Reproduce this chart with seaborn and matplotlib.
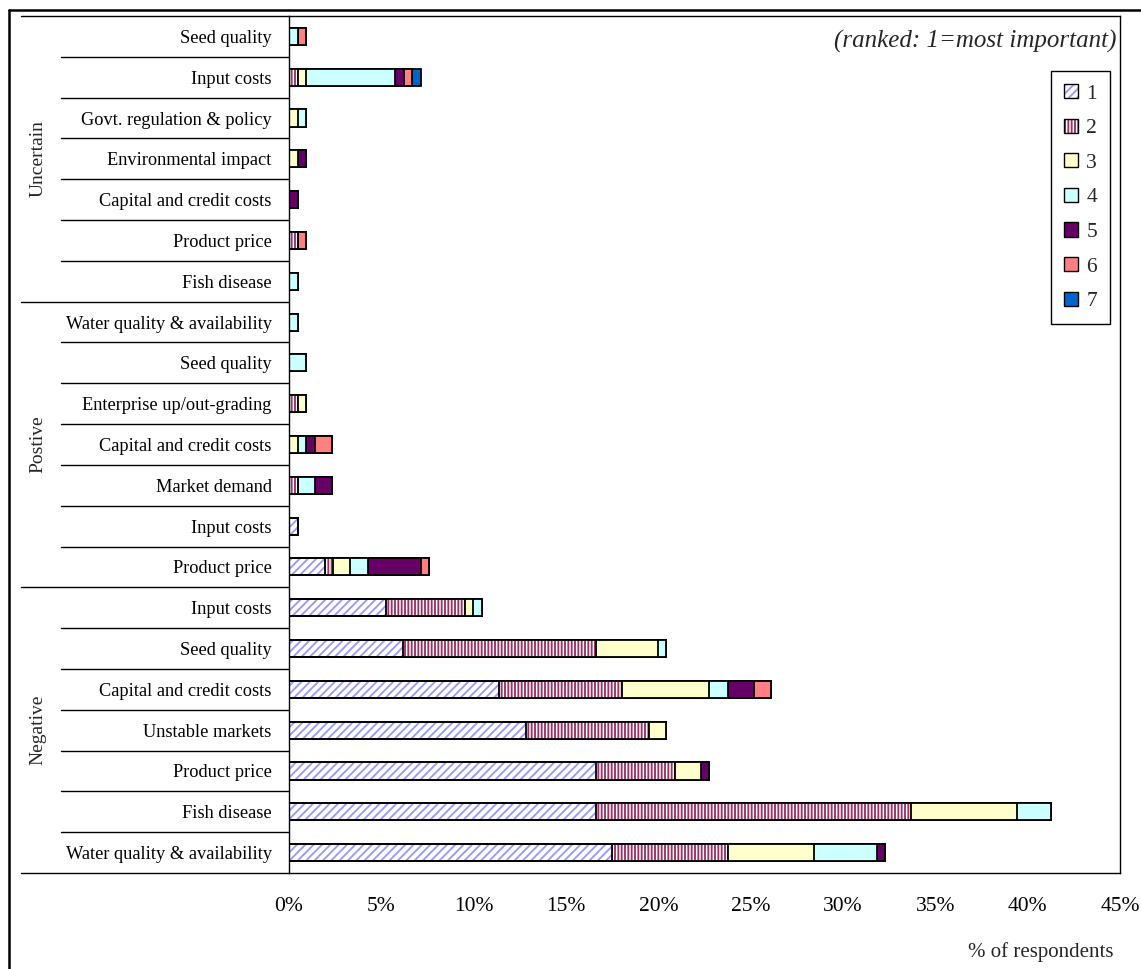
import matplotlib
matplotlib.use("Agg")
import matplotlib.pyplot as plt
from matplotlib.lines import Line2D
from matplotlib.patches import Patch
import seaborn as sns
import pandas as pd
import numpy as np

# ---------------- data ----------------
groups = ["Uncertain"] * 7 + ["Postive"] * 7 + ["Negative"] * 7
factors = [
    "Seed quality", "Input costs", "Govt. regulation & policy", "Environmental impact",
    "Capital and credit costs", "Product price", "Fish disease",
    "Water quality & availability", "Seed quality", "Enterprise up/out-grading",
    "Capital and credit costs", "Market demand", "Input costs", "Product price",
    "Input costs", "Seed quality", "Capital and credit costs", "Unstable markets",
    "Product price", "Fish disease", "Water quality & availability",
]
rank1 = [0, 0, 0, 0, 0, 0, 0,
         0, 0, 0, 0, 0, 0.47, 1.95,
         5.24, 6.17, 11.37, 12.82, 16.61, 16.61, 17.50]
rank2 = [0, 0.47, 0, 0, 0, 0.47, 0,
         0, 0, 0.47, 0, 0.47, 0, 0.43,
         4.29, 10.43, 6.66, 6.66, 4.29, 17.09, 6.26]
rank3 = [0, 0.47, 0.47, 0.47, 0, 0, 0,
         0, 0, 0.47, 0.47, 0, 0, 0.90,
         0.43, 3.36, 4.71, 0.94, 1.42, 5.72, 4.69]
rank4 = [0.47, 4.80, 0.47, 0, 0, 0, 0.47,
         0.47, 0.94, 0, 0.47, 0.94, 0, 1.01,
         0.50, 0.45, 1.01, 0, 0, 1.86, 3.37]
rank5 = [0, 0.47, 0, 0.47, 0.50, 0, 0,
         0, 0, 0, 0.47, 0.94, 0, 2.87,
         0, 0, 1.42, 0, 0.43, 0, 0.45]
rank6 = [0.47, 0.47, 0, 0, 0, 0.47, 0,
         0, 0, 0, 0.94, 0, 0, 0.42,
         0, 0, 0.94, 0, 0, 0, 0]
rank7 = [0, 0.47, 0, 0, 0, 0, 0,
         0, 0, 0, 0, 0, 0, 0,
         0, 0, 0, 0, 0, 0, 0]
rank_labels = ["1", "2", "3", "4", "5", "6", "7"]
xticks = [0, 5, 10, 15, 20, 25, 30, 35, 40, 45]
group_names = ["Uncertain", "Postive", "Negative"]

# ---------------- styles ----------------
rank_colors = ["#FFFFFF", "#FFFFFF", "#FFFFCC", "#CCFFFF", "#660066", "#FF8080", "#0066CC"]
hatch_colors = {0: "#9999FF", 1: "#993366"}
hatches = {0: "////", 1: "|||||"}

sns.set_style("white")
plt.rcParams["font.family"] = ["Liberation Serif", "DejaVu Serif"]
plt.rcParams["hatch.linewidth"] = 1.35

W, H = 1141, 969
fig = plt.figure(figsize=(W / 100, H / 100), dpi=100)
ax = fig.add_axes([289 / W, 1 - 873 / H, (1120 - 289) / W, (873 - 16) / H])

ids = [f"{g}_{i}" for i, g in enumerate(groups)]
ranks = [rank1, rank2, rank3, rank4, rank5, rank6, rank7]
df = pd.DataFrame({"id": ids})
cum = np.zeros(len(ids))
for k, r in enumerate(ranks):
    cum = cum + np.array(r)
    df[f"c{k + 1}"] = cum

BAR_W = 0.42
EDGE_LW = 1.3

# draw from the largest cumulative (rank 7) down to rank 1
for k in range(6, -1, -1):
    col = f"c{k + 1}"
    if k in hatches:
        sns.barplot(data=df, x=col, y="id", order=ids, orient="h", color="white",
                    saturation=1, errorbar=None, width=BAR_W, ax=ax)
        for p in ax.containers[-1]:
            p.set_facecolor("white")
            p.set_edgecolor(hatch_colors[k])
            p.set_linewidth(0)
            p.set_hatch(hatches[k])
    else:
        sns.barplot(data=df, x=col, y="id", order=ids, orient="h", color=rank_colors[k],
                    saturation=1, errorbar=None, width=BAR_W, ax=ax,
                    edgecolor="black", linewidth=EDGE_LW)

# black outlines for hatched segments
for k in (1, 0):
    col = f"c{k + 1}"
    sns.barplot(data=df, x=col, y="id", order=ids, orient="h", color="white",
                saturation=1, errorbar=None, width=BAR_W, ax=ax)
    for p in ax.containers[-1]:
        p.set_facecolor("none")
        p.set_edgecolor("black")
        p.set_linewidth(EDGE_LW)
        p.set_hatch(None)

ax.set_xlim(0, 45)
ax.set_ylim(len(ids) - 0.5, -0.5)
ax.set_xticks(xticks)
ax.set_xticklabels([f"{v}%" for v in xticks], fontsize=15.5)
ax.set_yticks(range(len(ids)))
ax.set_yticklabels(factors, fontsize=13.2)
ax.tick_params(axis="y", length=0, pad=12.5, colors="black")
ax.tick_params(axis="x", length=5, width=1, direction="out", pad=12.5, colors="black")
ax.set_xlabel("")
ax.set_ylabel("")
for s in ax.spines.values():
    s.set_visible(True)
    s.set_color("black")
    s.set_linewidth(1.0)

# category separator lines (multi-level axis)
trans = ax.get_yaxis_transform()
x_group = (21 - 289) / 831
x_item = (61 - 289) / 831
n = len(ids)
for b in range(n + 1):
    yb = b - 0.5
    xs = x_group if (b % 7 == 0) else x_item
    ax.plot([xs, 0], [yb, yb], color="black", lw=1.0, transform=trans, clip_on=False)

# group labels
for gi, gname in enumerate(group_names):
    ax.text((38 - 289) / 831, gi * 7 + 3, gname, rotation=90, ha="center", va="center",
            fontsize=14, transform=trans)

# legend
handles = []
for k in range(7):
    if k in hatches:
        h1 = Patch(facecolor="white", edgecolor=hatch_colors[k], linewidth=0, hatch=hatches[k])
        h2 = Patch(facecolor="none", edgecolor="black", linewidth=1.0)
        handles.append((h1, h2))
    else:
        handles.append(Patch(facecolor=rank_colors[k], edgecolor="black", linewidth=1.0))
leg = ax.legend(handles, rank_labels, loc="upper right",
                bbox_to_anchor=(1110 / W, 1 - 71 / H), bbox_transform=fig.transFigure,
                borderaxespad=0, fontsize=15.5, frameon=True, fancybox=False,
                edgecolor="black", framealpha=1, handlelength=0.65, handleheight=0.65,
                handletextpad=0.4, labelspacing=0.69, borderpad=0.6)
leg.get_frame().set_linewidth(1.0)

# texts
fig.text(1117 / W, 1 - 41 / H, "(ranked: 1=most important)", ha="right", va="center",
         fontsize=18, style="italic")
fig.text(1041 / W, 1 - 952 / H, "% of respondents", ha="center", va="center", fontsize=15)

# outer chart border (left and top)
fig.add_artist(Line2D([8.5 / W, 8.5 / W], [0, 1 - 10 / H], color="black", lw=1.8,
                      transform=fig.transFigure))
fig.add_artist(Line2D([8.5 / W, 1], [1 - 10 / H, 1 - 10 / H], color="black", lw=1.8,
                      transform=fig.transFigure))

fig.savefig("out.png", dpi=100)
